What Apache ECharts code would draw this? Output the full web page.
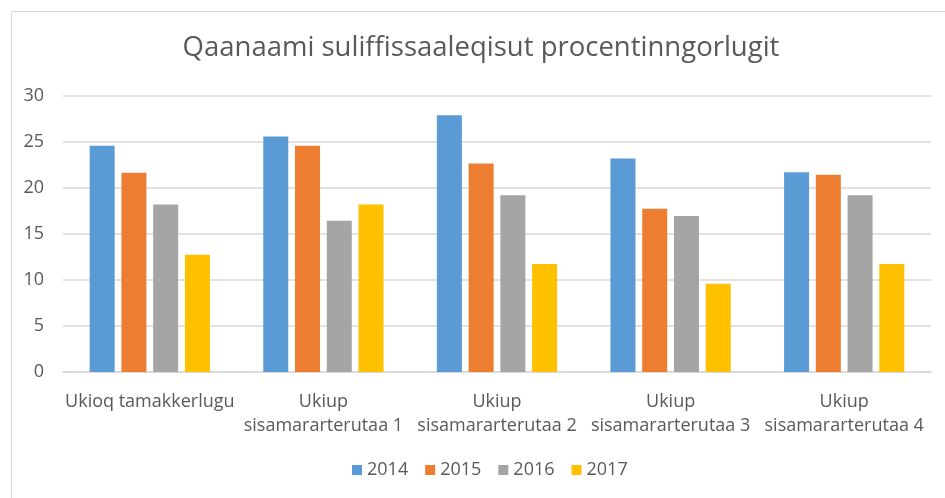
<!DOCTYPE html>
<html>
<head>
<meta charset="utf-8">
<script src="https://cdn.jsdelivr.net/npm/echarts@6/dist/echarts.min.js"></script>
<style>
  html, body { margin: 0; padding: 0; background: #fff; }
  #chart { width: 945px; height: 498px; }
</style>
</head>
<body>
<div id="chart"></div>
<script>
// kategorit
const categories = [
  'Ukioq tamakkerlugu',
  'Ukiup\nsisamararterutaa 1',
  'Ukiup\nsisamararterutaa 2',
  'Ukiup\nsisamararterutaa 3',
  'Ukiup\nsisamararterutaa 4'
]
const years = ['2014', '2015', '2016', '2017']
const data2014 = [24.6, 25.6, 27.9, 23.2, 21.7]
const data2015 = [21.65, 24.6, 22.65, 17.75, 21.45]
const data2016 = [18.2, 16.45, 19.2, 16.95, 19.2]
const data2017 = [12.75, 18.2, 11.75, 9.6, 11.75]
const yTicks = { min: 0, max: 30, interval: 5 }

const colors = ['#5b9bd5', '#ed7d31', '#a5a5a5', '#ffc000']
const font = '"Open Sans", sans-serif'
const textColor = '#595959'

const seriesData = [data2014, data2015, data2016, data2017]

const myChart = echarts.init(document.getElementById('chart'))

const option = {
  backgroundColor: '#fff',
  color: colors,
  animation: false,
  textStyle: { fontFamily: font },
  graphic: [
    // ramme
    {
      type: 'rect',
      shape: { x: 11.5, y: 11.5, width: 2000, height: 2000 },
      style: { fill: 'none', stroke: '#d9d9d9', lineWidth: 1 },
      silent: true
    },
    {
      type: 'text',
      x: 481,
      y: 48,
      style: {
        text: 'Qaanaami suliffissaaleqisut procentinngorlugit',
        fontFamily: font,
        fontSize: 27.5,
        fill: textColor,
        align: 'center',
        verticalAlign: 'middle'
      }
    }
  ],
  grid: {
    left: 63,
    right: 14,
    top: 96,
    bottom: 126,
    containLabel: false
  },
  legend: {
    data: years,
    left: 347,
    top: 456,
    icon: 'rect',
    itemWidth: 10,
    itemHeight: 10,
    itemGap: 17,
    textStyle: { fontSize: 18, color: textColor, fontFamily: font }
  },
  xAxis: {
    type: 'category',
    data: categories,
    axisLine: { lineStyle: { color: '#d9d9d9', width: 1.5 } },
    axisTick: { show: false },
    axisLabel: {
      interval: 0,
      margin: 18,
      fontSize: 18,
      lineHeight: 24,
      color: textColor,
      fontFamily: font
    }
  },
  yAxis: {
    type: 'value',
    min: yTicks.min,
    max: yTicks.max,
    interval: yTicks.interval,
    axisLine: { show: false },
    axisTick: { show: false },
    splitLine: { lineStyle: { color: '#d9d9d9', width: 1.5 } },
    axisLabel: {
      margin: 19,
      fontSize: 18,
      color: textColor,
      fontFamily: font
    }
  },
  series: years.map((name, i) => ({
    name: name,
    type: 'bar',
    data: seriesData[i],
    barWidth: 25,
    barGap: '27%',
    itemStyle: { color: colors[i] }
  }))
}

myChart.setOption(option)
</script>
</body>
</html>
